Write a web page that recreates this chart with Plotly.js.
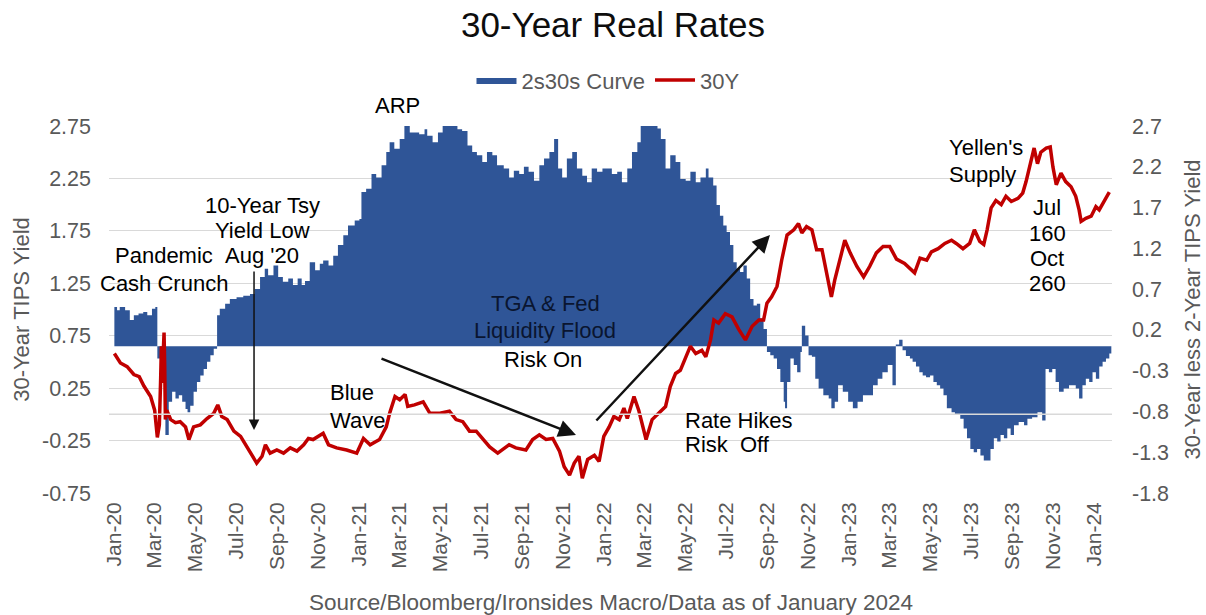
<!DOCTYPE html>
<html>
<head>
<meta charset="utf-8">
<script src="https://cdn.plot.ly/plotly-3.0.1.min.js"></script>
<style>
  html, body { margin: 0; padding: 0; background: #ffffff; }
  #chart { width: 1206px; height: 615px; }
</style>
</head>
<body>
<div id="chart"></div>
<script>
// ---- Data ----
const barName = '2s30s Curve';
const barDates = [
 '2020-01-02','2020-01-06','2020-01-10','2020-01-18','2020-01-25','2020-01-31','2020-02-07','2020-02-14','2020-02-20','2020-02-27',
 '2020-03-03','2020-03-06','2020-03-13','2020-03-18','2020-03-23','2020-03-28','2020-04-02','2020-04-07','2020-04-12','2020-04-17',
 '2020-04-20','2020-04-24','2020-04-29','2020-05-04','2020-05-09','2020-05-14','2020-05-19','2020-05-24','2020-05-29','2020-06-03',
 '2020-06-07','2020-06-15','2020-06-22','2020-07-02','2020-07-12','2020-07-22','2020-07-29','2020-08-06','2020-08-13','2020-08-18',
 '2020-08-26','2020-09-02','2020-09-09','2020-09-17','2020-09-24','2020-10-01','2020-10-07','2020-10-12','2020-10-19','2020-10-27',
 '2020-11-03','2020-11-08','2020-11-16','2020-11-23','2020-11-30','2020-12-08','2020-12-15','2020-12-25','2021-01-01','2021-01-04',
 '2021-01-11','2021-01-19','2021-01-26','2021-02-03','2021-02-10','2021-02-15','2021-02-22','2021-03-02','2021-03-09','2021-03-17',
 '2021-03-24','2021-03-31','2021-04-08','2021-04-12','2021-04-20','2021-04-28','2021-05-05','2021-05-12','2021-05-20','2021-05-27',
 '2021-06-03','2021-06-11','2021-06-18','2021-06-25','2021-07-03','2021-07-10','2021-07-18','2021-07-25','2021-08-04','2021-08-12',
 '2021-08-19','2021-08-27','2021-09-03','2021-09-10','2021-09-18','2021-09-26','2021-10-03','2021-10-11','2021-10-18','2021-10-24',
 '2021-10-30','2021-11-06','2021-11-14','2021-11-21','2021-11-29','2021-12-06','2021-12-13','2021-12-21','2021-12-29','2022-01-05',
 '2022-01-12','2022-01-20','2022-01-27','2022-02-04','2022-02-11','2022-02-19','2022-02-24','2022-03-01','2022-03-08','2022-03-13',
 '2022-03-21','2022-03-26','2022-04-02','2022-04-09','2022-04-17','2022-04-24','2022-05-02','2022-05-09','2022-05-17','2022-05-24',
 '2022-06-01','2022-06-05','2022-06-12','2022-06-17','2022-06-22','2022-06-27','2022-07-02','2022-07-07','2022-07-12','2022-07-17',
 '2022-07-22','2022-07-27','2022-08-01','2022-08-06','2022-08-11','2022-08-16','2022-08-21','2022-08-26','2022-08-31','2022-09-05',
 '2022-09-10','2022-09-15','2022-09-20','2022-09-25','2022-09-27','2022-09-30','2022-10-05','2022-10-10','2022-10-15','2022-10-20',
 '2022-10-22','2022-10-27','2022-11-01','2022-11-06','2022-11-11','2022-11-16','2022-11-23','2022-12-01','2022-12-05','2022-12-10',
 '2022-12-15','2022-12-22','2022-12-30','2023-01-06','2023-01-13','2023-01-21','2023-01-28','2023-02-05','2023-02-12','2023-02-19',
 '2023-02-27','2023-03-06','2023-03-11','2023-03-16','2023-03-21','2023-03-26','2023-04-01','2023-04-05','2023-04-10','2023-04-15',
 '2023-04-20','2023-04-25','2023-05-01','2023-05-06','2023-05-11','2023-05-16','2023-05-21','2023-05-26','2023-06-02','2023-06-07',
 '2023-06-15','2023-06-20','2023-06-25','2023-06-30','2023-07-05','2023-07-10','2023-07-15','2023-07-20','2023-07-25','2023-07-30',
 '2023-08-04','2023-08-09','2023-08-14','2023-08-19','2023-08-24','2023-08-29','2023-09-03','2023-09-10','2023-09-18','2023-09-23',
 '2023-09-30','2023-10-08','2023-10-15','2023-10-20','2023-10-25','2023-10-30','2023-11-04','2023-11-09','2023-11-16','2023-11-24',
 '2023-11-29','2023-12-04','2023-12-09','2023-12-14','2023-12-19','2023-12-24','2023-12-29','2024-01-03','2024-01-08','2024-01-13',
 '2024-01-18','2024-01-23','2024-01-26'
];
const barValues = [
 0.48,0.44,0.48,0.44,0.32,0.38,0.40,0.42,0.38,0.46,
 0.48,-0.15,-0.40,-1.09,-0.68,-0.56,-0.64,-0.60,-0.68,-0.77,
 -0.81,-0.73,-0.56,-0.44,-0.36,-0.28,-0.19,-0.11,-0.03,0.38,
 0.46,0.52,0.58,0.60,0.62,0.64,0.70,0.85,0.95,0.87,
 0.99,0.85,0.79,0.83,0.75,0.83,0.75,0.80,1.03,0.93,
 1.01,1.05,0.99,1.11,1.24,1.36,1.48,1.54,1.56,1.89,
 1.93,2.11,2.07,2.22,2.38,2.50,2.42,2.54,2.71,2.62,
 2.62,2.60,2.66,2.58,2.50,2.62,2.70,2.74,2.73,2.66,
 2.64,2.46,2.38,2.34,2.26,2.38,2.34,2.22,2.18,2.07,
 2.15,2.11,2.20,2.14,2.03,2.22,2.30,2.38,2.54,2.18,
 2.07,2.30,2.38,2.18,2.09,2.01,2.18,2.14,2.18,2.18,
 2.11,2.14,2.01,2.18,2.38,2.50,2.71,2.74,2.73,2.74,
 2.67,2.54,2.18,2.34,2.26,2.05,2.03,2.14,2.01,2.07,
 2.18,2.07,1.97,1.73,1.60,1.48,1.40,1.24,1.03,0.95,
 0.91,0.99,0.83,0.58,0.50,0.52,0.34,0.21,-0.07,-0.11,
 -0.15,-0.28,-0.44,-0.68,-0.76,-0.44,-0.15,-0.23,-0.32,-0.07,
 0.25,0.13,-0.11,-0.13,-0.40,-0.52,-0.60,-0.64,-0.76,-0.68,
 -0.48,-0.56,-0.68,-0.76,-0.68,-0.60,-0.60,-0.48,-0.40,-0.32,
 -0.23,-0.48,0.02,0.08,-0.05,-0.12,-0.15,-0.19,-0.25,-0.32,
 -0.36,-0.38,-0.36,-0.44,-0.48,-0.52,-0.60,-0.76,-0.81,-0.83,
 -0.89,-1.01,-1.13,-1.26,-1.30,-1.26,-1.34,-1.40,-1.40,-1.26,
 -1.13,-1.17,-1.09,-1.13,-1.01,-1.09,-0.97,-0.93,-0.97,-0.89,
 -0.87,-0.81,-0.91,-0.28,-0.32,-0.28,-0.44,-0.56,-0.52,-0.48,
 -0.48,-0.52,-0.64,-0.48,-0.40,-0.44,-0.32,-0.40,-0.25,-0.19,
 -0.15,-0.09,0.04
];

const lineName = '30Y';
const lineDates = [
 '2020-01-02','2020-01-11','2020-01-21','2020-01-31','2020-02-08','2020-02-15','2020-02-25','2020-03-02','2020-03-06','2020-03-09',
 '2020-03-11','2020-03-12','2020-03-13','2020-03-16','2020-03-17','2020-03-18','2020-03-20','2020-03-26','2020-04-02','2020-04-09',
 '2020-04-17','2020-04-22','2020-04-29','2020-05-09','2020-05-19','2020-05-29','2020-06-04','2020-06-10','2020-06-18','2020-06-28',
 '2020-07-08','2020-07-17','2020-07-25','2020-08-01','2020-08-09','2020-08-14','2020-08-21','2020-08-31','2020-09-10','2020-09-20',
 '2020-09-30','2020-10-10','2020-10-17','2020-10-24','2020-11-08','2020-11-16','2020-11-28','2020-12-13','2020-12-28','2021-01-07',
 '2021-01-17','2021-01-31','2021-02-10','2021-02-15','2021-02-23','2021-03-02','2021-03-10','2021-03-14','2021-03-24','2021-04-06',
 '2021-04-16','2021-05-01','2021-05-15','2021-05-25','2021-06-04','2021-06-14','2021-06-24','2021-07-04','2021-07-14','2021-07-26',
 '2021-08-05','2021-08-12','2021-08-22','2021-09-06','2021-09-16','2021-09-26','2021-10-06','2021-10-16','2021-10-26','2021-11-02',
 '2021-11-10','2021-11-17','2021-11-24','2021-11-29','2021-12-07','2021-12-17','2021-12-24','2021-12-31','2022-01-08','2022-01-15',
 '2022-01-23','2022-01-30','2022-02-04','2022-02-14','2022-02-21','2022-03-01','2022-03-04','2022-03-13','2022-03-23','2022-04-02',
 '2022-04-09','2022-04-17','2022-04-24','2022-05-02','2022-05-09','2022-05-17','2022-05-26','2022-06-01','2022-06-08','2022-06-13',
 '2022-06-20','2022-06-30','2022-07-10','2022-07-20','2022-07-30','2022-08-09','2022-08-19','2022-08-26','2022-08-31','2022-09-07',
 '2022-09-15','2022-09-22','2022-09-30','2022-10-10','2022-10-17','2022-10-22','2022-10-29','2022-11-06','2022-11-13','2022-11-21',
 '2022-11-28','2022-12-05','2022-12-10','2022-12-18','2022-12-25','2023-01-02','2023-01-12','2023-01-22','2023-01-31','2023-02-10',
 '2023-02-20','2023-03-02','2023-03-12','2023-03-24','2023-04-03','2023-04-08','2023-04-16','2023-04-26','2023-05-03','2023-05-13',
 '2023-05-23','2023-06-02','2023-06-09','2023-06-19','2023-06-29','2023-07-06','2023-07-14','2023-07-20','2023-07-25','2023-07-31',
 '2023-08-07','2023-08-15','2023-08-22','2023-08-30','2023-09-09','2023-09-16','2023-09-21','2023-09-28','2023-10-03','2023-10-08',
 '2023-10-13','2023-10-21','2023-10-27','2023-10-31','2023-11-05','2023-11-12','2023-11-19','2023-11-27','2023-12-04','2023-12-09',
 '2023-12-12','2023-12-19','2023-12-27','2024-01-03','2024-01-08','2024-01-16','2024-01-23'
];
const lineValues = [
 0.58,0.49,0.455,0.38,0.36,0.27,0.17,0.04,-0.22,-0.10,
 0.35,0.65,0.30,0.78,0.45,-0.05,0.04,-0.05,-0.08,-0.07,
 -0.12,-0.24,-0.12,-0.10,-0.04,0.01,0.09,-0.02,-0.05,-0.16,
 -0.21,-0.31,-0.39,-0.465,-0.40,-0.29,-0.37,-0.34,-0.37,-0.32,
 -0.35,-0.29,-0.23,-0.24,-0.18,-0.29,-0.32,-0.34,-0.37,-0.23,
 -0.29,-0.24,-0.12,0.01,0.17,0.14,0.19,0.075,0.09,0.12,
 0.01,0.01,0.03,-0.05,-0.07,-0.16,-0.16,-0.24,-0.31,-0.37,
 -0.32,-0.29,-0.32,-0.34,-0.24,-0.195,-0.24,-0.23,-0.35,-0.50,
 -0.58,-0.465,-0.40,-0.61,-0.43,-0.39,-0.45,-0.21,-0.12,-0.02,
 -0.05,0.06,-0.04,0.17,0.04,-0.15,-0.24,-0.05,0.01,0.075,
 0.265,0.39,0.42,0.55,0.65,0.58,0.61,0.55,0.71,0.90,
 0.87,0.96,0.93,0.81,0.71,0.84,0.90,0.90,1.06,1.12,
 1.22,1.47,1.71,1.76,1.82,1.73,1.79,1.76,1.57,1.57,
 1.35,1.12,1.28,1.50,1.66,1.54,1.41,1.31,1.41,1.54,
 1.60,1.60,1.48,1.44,1.38,1.35,1.49,1.47,1.55,1.58,
 1.63,1.66,1.63,1.58,1.63,1.76,1.65,1.62,1.76,1.97,
 2.04,2.00,2.08,2.03,2.06,2.11,2.22,2.43,2.54,2.39,
 2.50,2.54,2.55,2.36,2.19,2.30,2.22,2.17,2.08,1.95,
 1.84,1.87,1.89,1.98,1.95,2.04,2.12
];

const leftTickVals  = [-0.75,-0.25,0.25,0.75,1.25,1.75,2.25,2.75];
const leftTickText  = ['-0.75','-0.25','0.25','0.75','1.25','1.75','2.25','2.75'];
const rightTickVals = [-1.8,-1.3,-0.8,-0.3,0.2,0.7,1.2,1.7,2.2,2.7];
const rightTickText = ['-1.8','-1.3','-0.8','-0.3','0.2','0.7','1.2','1.7','2.2','2.7'];
const xTickVals = [
 '2020-01-01','2020-03-01','2020-05-01','2020-07-01','2020-09-01','2020-11-01',
 '2021-01-01','2021-03-01','2021-05-01','2021-07-01','2021-09-01','2021-11-01',
 '2022-01-01','2022-03-01','2022-05-01','2022-07-01','2022-09-01','2022-11-01',
 '2023-01-01','2023-03-01','2023-05-01','2023-07-01','2023-09-01','2023-11-01',
 '2024-01-01'
];
const xTickText = [
 'Jan-20','Mar-20','May-20','Jul-20','Sep-20','Nov-20',
 'Jan-21','Mar-21','May-21','Jul-21','Sep-21','Nov-21',
 'Jan-22','Mar-22','May-22','Jul-22','Sep-22','Nov-22',
 'Jan-23','Mar-23','May-23','Jul-23','Sep-23','Nov-23',
 'Jan-24'
];

// ---- Styling ----
const BLUE = '#2f5597';
const RED = '#c00000';
const GRAY = '#595959';
const GRID = '#d9d9d9';
const FONT = '"Liberation Sans", Arial, Helvetica, sans-serif';

const traces = [
  {
    type: 'scatter', mode: 'lines', name: barName,
    x: barDates, y: barValues, yaxis: 'y2',
    fill: 'tozeroy', fillcolor: BLUE,
    line: { shape: 'hv', width: 0, color: BLUE },
    hoverinfo: 'skip'
  },
  {
    type: 'scatter', mode: 'lines', name: lineName,
    x: lineDates, y: lineValues, yaxis: 'y3',
    line: { color: RED, width: 3.5 },
    hoverinfo: 'skip'
  }
];

function txt(text, x, y, xanchor, color) {
  return { text: text, xref: 'paper', yref: 'paper', x: x, y: y,
    xanchor: xanchor || 'center', yanchor: 'middle', showarrow: false,
    font: { size: 22, color: color || '#000000', family: FONT } };
}
function arrow(x, y, ax, ay, w) {
  return { text: '', xref: 'paper', yref: 'paper', x: x, y: y,
    axref: 'pixel', ayref: 'pixel', ax: ax, ay: ay, showarrow: true,
    arrowhead: 2, arrowsize: 1.4, arrowwidth: w, arrowcolor: '#111111', standoff: 0 };
}

const annotations = [
  txt('ARP', 0.2881, 1.0572),
  txt('Pandemic', 0.0548, 0.6485),
  txt('Cash Crunch', 0.0548, 0.5722),
  txt('10-Year Tsy', 0.1535, 0.7847),
  txt('Yield Low', 0.1535, 0.7139),
  txt("Aug '20", 0.1525, 0.6485),
  txt('Blue', 0.2183, 0.2725, 'left'),
  txt('Wave', 0.2183, 0.1989, 'left'),
  txt('TGA &amp; Fed', 0.4347, 0.5177, 'center', '#0a1530'),
  txt('Liquidity Flood', 0.4347, 0.4441, 'center', '#0a1530'),
  txt('Risk On', 0.4327, 0.3624),
  txt('Rate Hikes', 0.5723, 0.1989, 'left'),
  txt('Risk\u00a0 Off', 0.5723, 0.1308, 'left'),
  txt("Yellen's", 0.8355, 0.9401, 'left'),
  txt('Supply', 0.8355, 0.8665, 'left'),
  txt('Jul', 0.9352, 0.7766),
  txt('160', 0.9352, 0.7084),
  txt('Oct', 0.9352, 0.6403),
  txt('260', 0.9352, 0.5722),
  arrow(0.1446, 0.1717, 0, -160, 1.5),
  arrow(0.4656, 0.1580, -196, -77, 2.5),
  arrow(0.6590, 0.7030, -175, 187, 2.5),
  { text: 'Source/Bloomberg/Ironsides Macro/Data as of January 2024', xref: 'paper', yref: 'paper',
    x: 0.5, y: -0.2997, xanchor: 'center', yanchor: 'middle', showarrow: false,
    font: { size: 22.5, color: GRAY, family: FONT } }
];

const layout = {
  width: 1206, height: 615,
  margin: { l: 109, r: 94, t: 126, b: 122, autoexpand: false },
  paper_bgcolor: '#ffffff', plot_bgcolor: '#ffffff',
  font: { family: FONT, color: GRAY, size: 21 },
  title: { text: '30-Year Real Rates', xref: 'container', yref: 'container',
    x: 0.5083, y: 0.959, xanchor: 'center', yanchor: 'middle',
    font: { size: 35, color: '#0d0d0d', family: FONT } },
  showlegend: true,
  legend: { orientation: 'h', xref: 'paper', yref: 'paper', x: 0.4975, y: 1.125,
    xanchor: 'center', yanchor: 'middle', font: { size: 22, color: GRAY, family: FONT },
    bgcolor: 'rgba(0,0,0,0)', traceorder: 'normal', itemwidth: 40 },
  xaxis: {
    type: 'date', range: ['2019-12-25', '2024-01-27'],
    tickvals: xTickVals, ticktext: xTickText, tickangle: -90,
    tickfont: { size: 21, color: GRAY }, ticks: '', ticklabelstandoff: 4,
    showgrid: false, zeroline: false, showline: false, fixedrange: true
  },
  yaxis: {
    range: [-0.75, 2.75], tickvals: leftTickVals, ticktext: leftTickText,
    tickfont: { size: 21.5, color: GRAY }, ticks: '', ticklabelstandoff: 17,
    showgrid: true, gridcolor: GRID, gridwidth: 1, zeroline: false, showline: false,
    title: { text: '30-Year TIPS Yield', font: { size: 22, color: GRAY }, standoff: 6 },
    fixedrange: true
  },
  yaxis2: {
    overlaying: 'y', side: 'right', range: [-1.8, 2.7],
    tickvals: rightTickVals, ticktext: rightTickText,
    tickfont: { size: 21.5, color: GRAY }, ticks: '', ticklabelstandoff: 19,
    showgrid: false, zeroline: false, showline: false,
    title: { text: '30-Year less 2-Year TIPS Yield', font: { size: 22, color: GRAY }, standoff: 16 },
    fixedrange: true
  },
  yaxis3: {
    overlaying: 'y', side: 'left', range: [-0.75, 2.75], visible: false,
    showgrid: false, zeroline: false, fixedrange: true
  },
  shapes: [
    { type: 'line', xref: 'paper', x0: 0, x1: 1, yref: 'y', y0: 0, y1: 0,
      line: { color: GRID, width: 1.5 }, layer: 'above' }
  ],
  annotations: annotations
};

Plotly.newPlot('chart', traces, layout, { displayModeBar: false, staticPlot: true });
</script>
</body>
</html>
